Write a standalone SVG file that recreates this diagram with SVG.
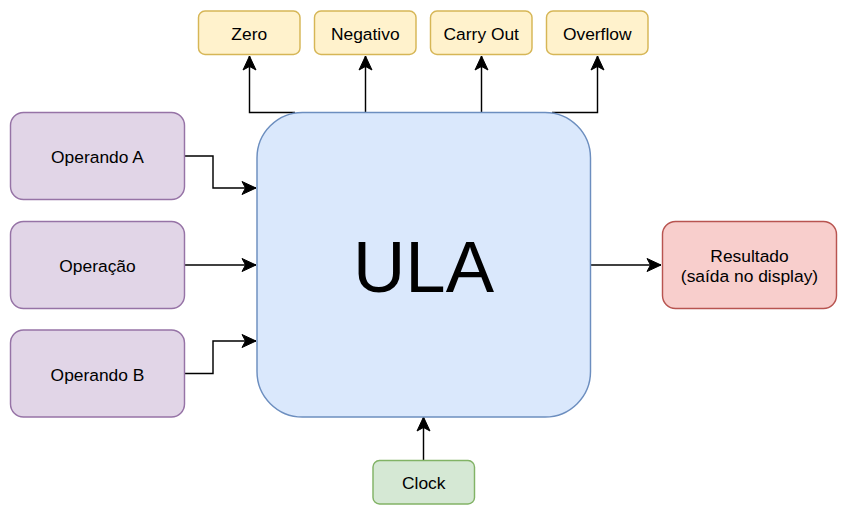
<svg xmlns="http://www.w3.org/2000/svg" width="846" height="512" viewBox="0 0 846 512">
<style>
text{font-family:"Liberation Sans",Arial,sans-serif;font-size:17.4px;fill:#000;text-anchor:middle;dominant-baseline:central}
.box{stroke-width:1.45}
.p{fill:#e1d5e7;stroke:#9673a6}
.b{fill:#dae8fc;stroke:#6c8ebf}
.y{fill:#fff2cc;stroke:#d6b656}
.r{fill:#f8cecc;stroke:#b85450}
.g{fill:#d5e8d4;stroke:#82b366}
.e{fill:none;stroke:#000;stroke-width:1.45;marker-end:url(#arr)}
</style>
<defs>
<marker id="arr" markerUnits="userSpaceOnUse" viewBox="-16 -8 17 16" markerWidth="17" markerHeight="16" refX="0" refY="0" orient="auto">
<path d="M0,0 L-14,-6.5 L-10.5,0 L-14,6.5 Z" fill="#000" stroke="#000" stroke-width="1"/>
</marker>
</defs>
<rect width="846" height="512" fill="#fff"/>
<g id="edges">
<path class="e" d="M184.5,156 H213 V188 H256"/>
<path class="e" d="M184.5,265 H256"/>
<path class="e" d="M184.5,373.5 H213 V341 H256"/>
<path class="e" d="M590.5,265 H661"/>
<path class="e" d="M423.5,460.5 V417"/>
<path class="e" d="M295,112.5 H249.5 V56"/>
<path class="e" d="M365.5,112.5 V56"/>
<path class="e" d="M481.5,112.5 V56"/>
<path class="e" d="M552,112.5 H597.5 V56"/>
</g>
<g id="ula"><rect class="box b" x="257" y="112.5" width="333.5" height="304.5" rx="45.5"/><text x="423.5" y="266" style="font-size:72.5px">ULA</text></g>
<g id="opA"><rect class="box p" x="10.5" y="112.5" width="174" height="87" rx="13"/><text x="97.5" y="157">Operando A</text></g>
<g id="oper"><rect class="box p" x="10.5" y="221.5" width="174" height="87" rx="13"/><text x="97.5" y="266">Operação</text></g>
<g id="opB"><rect class="box p" x="10.5" y="330" width="174" height="87" rx="13"/><text x="97.5" y="374.5">Operando B</text></g>
<g id="zero"><rect class="box y" x="198.5" y="11" width="101.5" height="43.5" rx="6.5"/><text x="249.25" y="33.5">Zero</text></g>
<g id="neg"><rect class="box y" x="314.5" y="11" width="101.5" height="43.5" rx="6.5"/><text x="365.25" y="33.5">Negativo</text></g>
<g id="carry"><rect class="box y" x="430.5" y="11" width="101.5" height="43.5" rx="6.5"/><text x="481.25" y="33.5">Carry Out</text></g>
<g id="ovf"><rect class="box y" x="546.5" y="11" width="101.5" height="43.5" rx="6.5"/><text x="597.25" y="33.5">Overflow</text></g>
<g id="res"><rect class="box r" x="662.5" y="221.5" width="174" height="87" rx="13"/><text x="749.5" y="255.5">Resultado</text><text x="749.5" y="275.5">(saída no display)</text></g>
<g id="clock"><rect class="box g" x="373" y="460.5" width="101.5" height="43.5" rx="6.5"/><text x="423.75" y="483">Clock</text></g>
</svg>
